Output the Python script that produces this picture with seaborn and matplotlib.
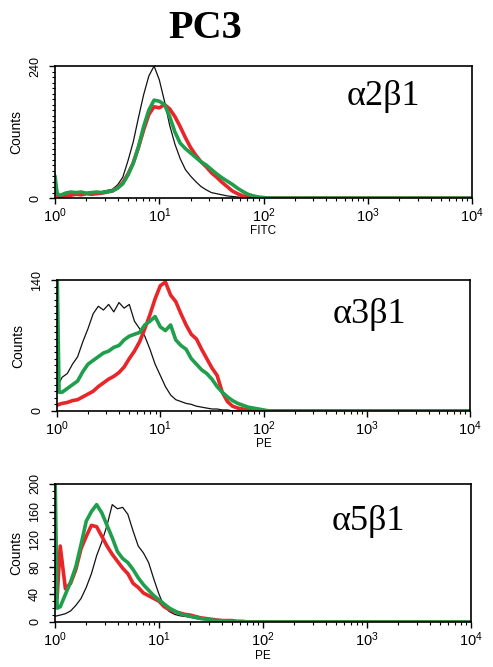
import numpy as np
import pandas as pd
import matplotlib
matplotlib.use("Agg")
import matplotlib.pyplot as plt
from matplotlib.ticker import MultipleLocator, FixedLocator, NullFormatter
import seaborn as sns

# --- data: counts per channel, channel position in log10 decades ---
DEC = [0.00, 0.02, 0.05, 0.10, 0.15, 0.20, 0.25, 0.30, 0.35, 0.40, 0.45,
       0.50, 0.55, 0.60, 0.65, 0.70, 0.75, 0.80, 0.85, 0.90, 0.95,
       1.00, 1.05, 1.10, 1.15, 1.20, 1.25, 1.30, 1.35, 1.40, 1.45,
       1.50, 1.55, 1.60, 1.65, 1.70, 1.75, 1.80, 1.85, 1.90, 1.95,
       2.00, 2.05, 2.10, 2.15, 2.20, 2.25, 2.30, 2.35, 2.40, 2.45,
       2.50, 4.00]

# alpha2 beta1 (FITC)
a2_black = [45, 10, 6, 8, 9, 8, 10, 9, 10, 9, 12,
            14, 16, 24, 38, 68, 102, 146, 188, 222, 240,
            215, 176, 132, 98, 72, 52, 40, 30, 21, 15,
            10, 8, 6, 4, 3, 2, 1, 0, 0, 0,
            0, 0, 0, 0, 0, 0, 0, 0, 0, 0,
            0, 0]
a2_red = [30, 5, 3, 4, 5, 7, 6, 8, 7, 8, 9,
          11, 13, 19, 28, 44, 64, 92, 124, 152, 166,
          164, 170, 162, 148, 130, 110, 92, 78, 66, 57,
          46, 38, 29, 21, 13, 8, 4, 2, 1, 0,
          0, 0, 0, 0, 0, 0, 0, 0, 0, 0,
          0, 0]
a2_green = [40, 8, 5, 9, 11, 10, 11, 9, 10, 11, 10,
            12, 13, 18, 26, 42, 63, 93, 130, 160, 178,
            176, 170, 148, 120, 100, 90, 82, 74, 66, 60,
            52, 44, 37, 31, 25, 18, 12, 7, 4, 2,
            1, 0, 0, 0, 0, 0, 0, 0, 0, 0,
            0, 0]

# alpha3 beta1 (PE)
a3_black = [28, 30, 36, 40, 50, 58, 74, 88, 104, 112, 108,
            114, 106, 116, 110, 114, 96, 88, 80, 66, 50,
            38, 26, 17, 12, 10, 8, 7, 5, 4, 3,
            2, 2, 1, 1, 0, 0, 0, 0, 0, 0,
            0, 0, 0, 0, 0, 0, 0, 0, 0, 0,
            0, 0]
a3_red = [6, 7, 8, 9, 11, 12, 15, 18, 21, 26, 30,
          34, 37, 41, 47, 56, 64, 74, 88, 103, 120,
          134, 138, 124, 117, 104, 92, 82, 77, 66, 56,
          46, 38, 20, 10, 5, 3, 2, 1, 0, 0,
          0, 0, 0, 0, 0, 0, 0, 0, 0, 0,
          0, 0]
a3_green = [160, 20, 20, 24, 28, 32, 42, 50, 54, 58, 62,
            64, 68, 70, 76, 80, 82, 84, 92, 96, 101,
            90, 86, 92, 76, 70, 66, 56, 50, 44, 40,
            34, 26, 20, 15, 11, 8, 6, 4, 3, 2,
            1, 0, 0, 0, 0, 0, 0, 0, 0, 0,
            0, 0]

# alpha5 beta1 (PE)
a5_black = [8, 9, 10, 12, 16, 24, 34, 50, 70, 96, 116,
            140, 170, 164, 166, 156, 132, 110, 100, 86, 62,
            40, 22, 15, 11, 9, 8, 7, 5, 4, 4,
            3, 3, 2, 2, 2, 1, 1, 1, 0, 0,
            0, 0, 0, 0, 0, 0, 0, 0, 0, 0,
            0, 0]
a5_red = [30, 35, 110, 48, 56, 76, 106, 124, 140, 138, 124,
          110, 98, 88, 78, 70, 56, 50, 42, 38, 34,
          30, 22, 18, 15, 13, 11, 10, 8, 6, 5,
          4, 3, 2, 2, 2, 1, 1, 0, 0, 0,
          0, 0, 0, 0, 0, 0, 0, 0, 0, 0,
          0, 0]
a5_green = [220, 20, 22, 40, 58, 80, 112, 146, 160, 170, 158,
            140, 122, 102, 92, 86, 76, 64, 54, 46, 38,
            32, 26, 20, 16, 12, 10, 8, 7, 5, 4,
            3, 2, 2, 1, 1, 0, 0, 0, 0, 0,
            0, 0, 0, 0, 0, 0, 0, 0, 0, 0,
            0, 0]

PANEL_LABELS = ["\u03b12\u03b21", "\u03b13\u03b21", "\u03b15\u03b21"]
X_LABELS = ["FITC", "PE", "PE"]
Y_MAX = [240, 140, 200]
Y_TICKS = [[0, 240], [0, 140], [0, 40, 80, 120, 160, 200]]
Y_MINOR = [10, 7, 10]
X_TICKS = [1, 10, 100, 1000, 10000]
X_TICKLABELS = ["$10^{0}$", "$10^{1}$", "$10^{2}$", "$10^{3}$", "$10^{4}$"]

# --- style ---
sns.set_theme(style="ticks")
plt.rcParams["font.family"] = ["Liberation Sans", "DejaVu Sans"]
plt.rcParams["mathtext.fontset"] = "custom"
plt.rcParams["mathtext.rm"] = "Liberation Sans"
plt.rcParams["mathtext.it"] = "Liberation Sans"
plt.rcParams["text.color"] = "black"
plt.rcParams["axes.labelcolor"] = "black"
plt.rcParams["xtick.color"] = "black"
plt.rcParams["ytick.color"] = "black"

COLORS = {"black": "#111111", "red": "#e8262a", "green": "#1f9e4c"}
WIDTHS = {"black": 0.9, "red": 2.6, "green": 2.6}

x = 10 ** np.array(DEC)
panels = [
    {"black": a2_black, "red": a2_red, "green": a2_green},
    {"black": a3_black, "red": a3_red, "green": a3_green},
    {"black": a5_black, "red": a5_red, "green": a5_green},
]

fig = plt.figure(figsize=(4.93, 6.67), dpi=100)
positions = [
    [0.1116, 0.703, 0.846, 0.198],
    [0.1156, 0.384, 0.838, 0.196],
    [0.1116, 0.0675, 0.844, 0.207],
]
label_pos = [(0.787, 0.77), (0.755, 0.74), (0.752, 0.727)]
xlabel_pad = [0, 0, 1]

for i, series in enumerate(panels):
    ax = fig.add_axes(positions[i])
    df = pd.DataFrame({"x": x, **series})
    for name in ["black", "red", "green"]:
        sns.lineplot(data=df, x="x", y=name, ax=ax, color=COLORS[name],
                     lw=WIDTHS[name], sort=False, estimator=None)
    ax.set_xscale("log")
    ax.set_xlim(1, 10000)
    ax.set_ylim(0, Y_MAX[i])

    ax.set_xticks(X_TICKS)
    ax.set_xticklabels(X_TICKLABELS, fontsize=10.5)
    ax.xaxis.set_minor_formatter(NullFormatter())
    ax.yaxis.set_major_locator(FixedLocator(Y_TICKS[i]))
    ax.yaxis.set_minor_locator(MultipleLocator(Y_MINOR[i]))
    ax.set_yticklabels([str(t) for t in Y_TICKS[i]], rotation=90,
                       fontsize=9, va="center")
    ax.tick_params(axis="both", which="major", direction="out", length=4,
                   width=1, pad=2)
    ax.tick_params(axis="y", which="major", pad=6)
    ax.tick_params(axis="both", which="minor", direction="out", length=2.5,
                   width=0.8)
    for sp in ax.spines.values():
        sp.set_color("black")
        sp.set_linewidth(1.2)

    ax.set_xlabel(X_LABELS[i], fontsize=8.5, labelpad=xlabel_pad[i])
    ax.set_ylabel("Counts", fontsize=10, labelpad=4)
    ax.text(label_pos[i][0], label_pos[i][1], PANEL_LABELS[i],
            transform=ax.transAxes, ha="center", va="center",
            fontsize=26, family=["Liberation Serif", "DejaVu Serif"])

fig.text(0.416, 0.958, "PC3", ha="center", va="center", fontsize=29,
         fontweight="bold", family=["Liberation Serif", "DejaVu Serif"])

fig.savefig("out.png", dpi=100, facecolor="white")
